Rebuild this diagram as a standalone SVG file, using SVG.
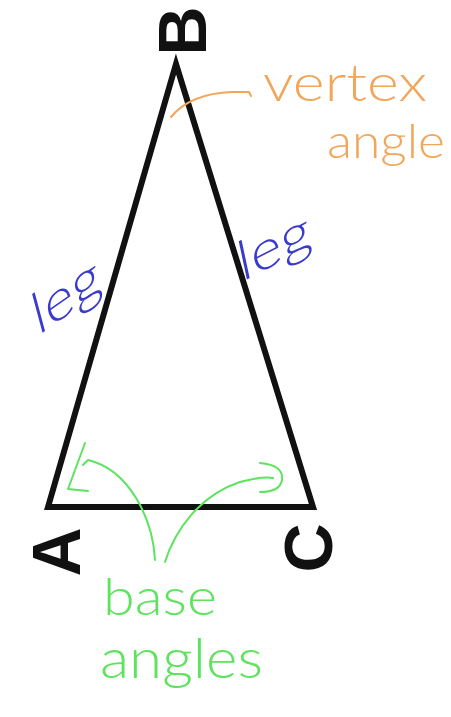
<svg xmlns="http://www.w3.org/2000/svg" width="451" height="717" viewBox="0 0 451 717">
<style>
.vlabel{font-family:"Liberation Sans",Arial,sans-serif;font-weight:bold;font-size:68px;fill:#111;text-anchor:middle}
.hand{font-family:"Lato","Liberation Sans",Arial,sans-serif;font-weight:300}
.orange{fill:#f2a65a}
.blue{fill:#3a3acc}
.green{fill:#5ee35e}
.ink{fill:none;stroke-width:2;stroke-linecap:round;stroke-linejoin:round}
</style>
<rect width="451" height="717" fill="#fff"/>
<g id="triangle">
<polygon points="48,507 176,64 313,507" fill="none" stroke="#111" stroke-width="6" stroke-linejoin="miter"/>
</g>
<g id="vertex-B"><text class="vlabel" transform="translate(206,31) rotate(-90)">B</text></g>
<g id="vertex-A"><text class="vlabel" transform="translate(80,552) rotate(-90)">A</text></g>
<g id="vertex-C"><text class="vlabel" transform="translate(332,548) rotate(-90)">C</text></g>
<g id="label-vertex-angle">
<text class="hand orange" x="263" y="101" font-size="52" textLength="164" lengthAdjust="spacingAndGlyphs">vertex</text>
<text class="hand orange" x="327" y="158" font-size="48" textLength="118" lengthAdjust="spacingAndGlyphs">angle</text>
</g>
<g id="label-leg-left"><text class="hand blue" font-size="52" textLength="80" lengthAdjust="spacingAndGlyphs" transform="translate(38,336) rotate(-35) skewX(-20)">leg</text></g>
<g id="label-leg-right"><text class="hand blue" font-size="52" textLength="80" lengthAdjust="spacingAndGlyphs" transform="translate(242,282) rotate(-27) skewX(-15)">leg</text></g>
<g id="label-base-angles">
<text class="hand green" x="103" y="615" font-size="52" textLength="114" lengthAdjust="spacingAndGlyphs">base</text>
<text class="hand green" x="100" y="678" font-size="55" textLength="163" lengthAdjust="spacingAndGlyphs">angles</text>
</g>
<g id="connectors">
<path class="ink" stroke="#f2a65a" d="M171,117 C185,100 205,93 232,92 L249,92 L251,96"/>
<path class="ink" stroke="#5ee35e" d="M85,443 L68,489 L88,491"/>
<path class="ink" stroke="#5ee35e" d="M155,560 C153,520 130,470 88,460 L83,465"/>
<path class="ink" stroke="#5ee35e" d="M165,562 C175,530 200,495 240,482 C255,478 266,477 273,478"/>
<path class="ink" stroke="#5ee35e" d="M260,463 Q284,465 282,480 Q280,492 260,492"/>
</g>
</svg>
